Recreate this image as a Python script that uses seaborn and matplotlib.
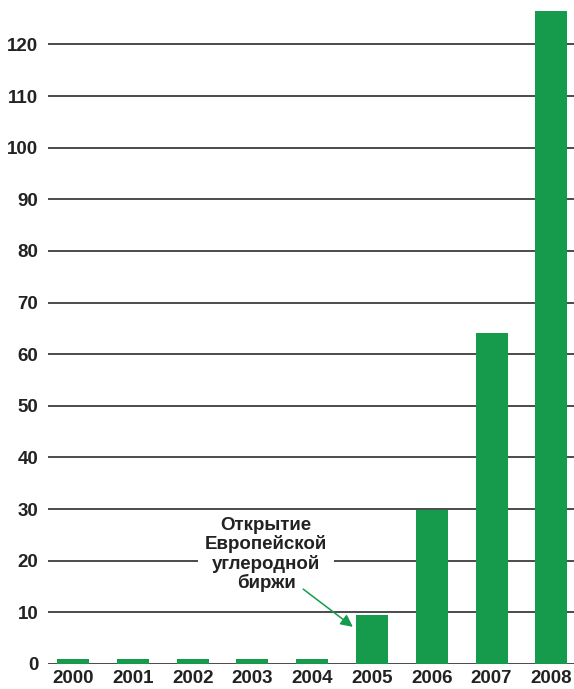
import matplotlib
matplotlib.use("Agg")
import matplotlib.pyplot as plt
import seaborn as sns
import pandas as pd

years = ["2000", "2001", "2002", "2003", "2004", "2005", "2006", "2007", "2008"]
values = [0.9, 0.9, 0.9, 0.9, 0.9, 9.5, 29.8, 64.2, 126.4]
yticks = [0, 10, 20, 30, 40, 50, 60, 70, 80, 90, 100, 110, 120]
note = "Открытие\nЕвропейской\nуглеродной\nбиржи"

sns.set_theme(style="white")
plt.rcParams["font.family"] = ["Liberation Sans", "DejaVu Sans"]

df = pd.DataFrame({"year": years, "value": values})

fig = plt.figure(figsize=(5.74, 6.89), dpi=100)
ax = fig.add_axes([48/574, 25/689, 526/574, 664/689])

green = "#169B4C"
text_c = "#222222"

sns.barplot(data=df, x="year", y="value", order=years, color=green,
            saturation=1, width=0.535, ax=ax, zorder=3,
            linewidth=0, edgecolor="none")

ax.set_xlim(-0.42, 8.38)
ax.set_ylim(0, 128.6)
ax.set_yticks(yticks)
ax.set_yticklabels([str(t) for t in yticks])
ax.yaxis.grid(True, color="#1a1a1a", linewidth=1.1, zorder=1)
ax.xaxis.grid(False)
ax.set_axisbelow(True)
for s in ax.spines.values():
    s.set_visible(False)
ax.set_xlabel("")
ax.set_ylabel("")
ax.tick_params(axis="y", length=0, pad=7, labelsize=13.5, labelcolor=text_c)
ax.tick_params(axis="x", length=0, pad=4.5, labelsize=13.5, labelcolor=text_c)
for lbl in ax.get_xticklabels() + ax.get_yticklabels():
    lbl.set_fontweight("bold")

ax.text(3.23, 21.2, note, ha="center", va="center", fontsize=13.5,
        fontweight="bold", color=text_c, linespacing=1.08, zorder=4,
        bbox=dict(facecolor="white", edgecolor="none", pad=5))
ax.annotate("", xy=(4.68, 7.2), xytext=(3.85, 14.5),
            arrowprops=dict(arrowstyle="-|>", color=green, lw=1.1,
                            mutation_scale=18, shrinkA=0, shrinkB=0),
            zorder=5)

fig.savefig("out.png", dpi=100)
